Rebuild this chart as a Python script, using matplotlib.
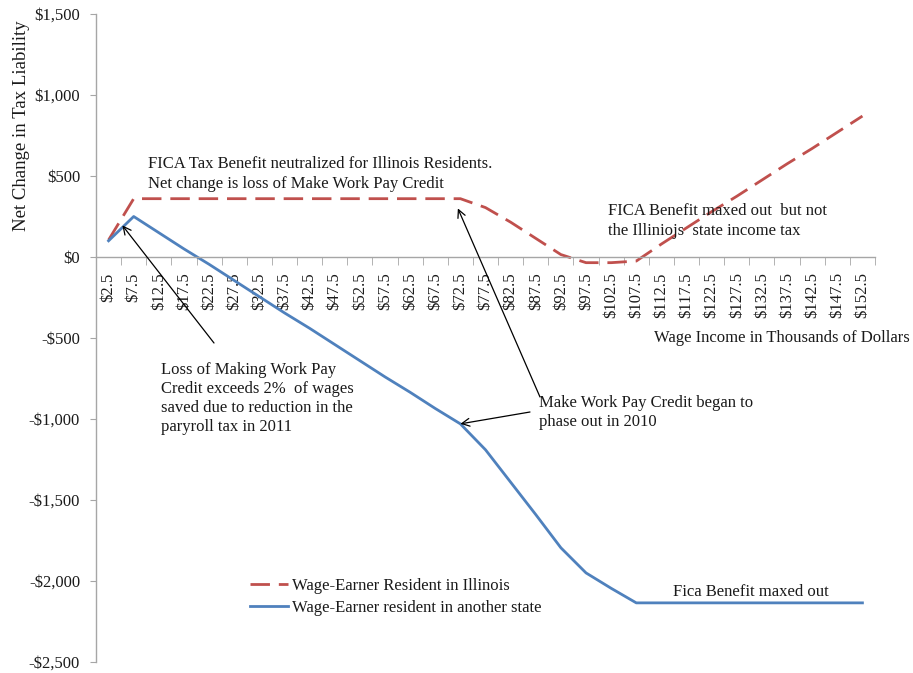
import matplotlib
matplotlib.use("Agg")
import matplotlib.pyplot as plt
from matplotlib.ticker import FuncFormatter, FixedLocator

plt.rcParams['font.family'] = ['Liberation Serif', 'DejaVu Serif']

categories = ["$2.5", "$7.5", "$12.5", "$17.5", "$22.5", "$27.5", "$32.5", "$37.5",
              "$42.5", "$47.5", "$52.5", "$57.5", "$62.5", "$67.5", "$72.5", "$77.5",
              "$82.5", "$87.5", "$92.5", "$97.5", "$102.5", "$107.5", "$112.5", "$117.5",
              "$122.5", "$127.5", "$132.5", "$137.5", "$142.5", "$147.5", "$152.5"]

illinois = [105, 360, 360, 360, 360, 360, 360, 360, 360, 360, 360, 360, 360, 360, 360,
            305, 215, 115, 15, -35, -35, -25, 80, 180, 280, 375, 475, 575, 670, 770, 870]

other_state = [100, 250, 150, 50, -45, -145, -245, -345, -440, -540, -640, -740, -835,
               -935, -1030, -1190, -1390, -1590, -1795, -1950, -2045, -2135, -2135, -2135,
               -2135, -2135, -2135, -2135, -2135, -2135, -2135]

y_ticks = [-2500, -2000, -1500, -1000, -500, 0, 500, 1000, 1500]

W, H = 913, 673
fig = plt.figure(figsize=(W / 100, H / 100), dpi=100)
ax = fig.add_axes([96 / W, 1 - 662 / H, (875 - 96) / W, (662 - 14) / H])

def P(px, py):
    return (px / W, 1 - py / H)

text_color = '#1a1a1a'
axis_color = '#a6a6a6'
FS = 12

x = list(range(len(categories)))
ax.plot(x, illinois, color='#C0504D', lw=2.0, dashes=(7, 3.2),
        label='Wage-Earner Resident in Illinois', solid_capstyle='butt')
ax.plot(x, other_state, color='#4F81BD', lw=2.0,
        label='Wage-Earner resident in another state')

ax.set_xlim(-0.5, len(categories) - 0.5)
ax.set_ylim(-2500, 1500)

for s in ['top', 'right']:
    ax.spines[s].set_visible(False)
ax.spines['bottom'].set_position(('data', 0))
ax.spines['bottom'].set_color(axis_color)
ax.spines['left'].set_color(axis_color)
ax.spines['bottom'].set_linewidth(1.0)
ax.spines['left'].set_linewidth(1.0)

ax.set_yticks(y_ticks)
ax.yaxis.set_major_formatter(FuncFormatter(
    lambda v, p: ('-' if v < 0 else '') + '${:,.0f}'.format(abs(v))))
ax.tick_params(axis='y', length=4.5, color=axis_color, pad=7,
               labelsize=FS, labelcolor=text_color)

ax.set_xticks(x)
ax.set_xticklabels(categories, rotation=90, va='top', ha='center')
ax.xaxis.set_minor_locator(FixedLocator([i + 0.5 for i in range(-1, len(categories))]))
ax.tick_params(axis='x', which='major', length=0, pad=11,
               labelsize=FS, labelcolor=text_color)
ax.tick_params(axis='x', which='minor', length=6, color=axis_color, direction='out')

fig.text(*P(22, 126), 'Net Change in Tax Liability', rotation=90, ha='center',
         va='center', fontsize=13.5, color=text_color)

fig.text(*P(654, 330), 'Wage Income in Thousands of Dollars', ha='left', va='top',
         fontsize=FS, color=text_color)

fig.text(*P(148, 156), 'FICA Tax Benefit neutralized for Illinois Residents.\n'
         'Net change is loss of Make Work Pay Credit', ha='left', va='top',
         fontsize=FS, color=text_color, linespacing=1.3)

fig.text(*P(608, 203), 'FICA Benefit maxed out  but not\nthe Illiniojs  state income tax',
         ha='left', va='top', fontsize=FS, color=text_color, linespacing=1.3)

fig.text(*P(161, 362), 'Loss of Making Work Pay\nCredit exceeds 2%  of wages\n'
         'saved due to reduction in the\nparyroll tax in 2011',
         ha='left', va='top', fontsize=FS, color=text_color, linespacing=1.25)

fig.text(*P(539, 395), 'Make Work Pay Credit began to\nphase out in 2010',
         ha='left', va='top', fontsize=FS, color=text_color, linespacing=1.25)

fig.text(*P(673, 584), 'Fica Benefit maxed out', ha='left', va='top',
         fontsize=FS, color=text_color)

arrow = dict(arrowstyle='->', color='black', lw=0.9, shrinkA=0, shrinkB=0,
             mutation_scale=14)
ax.annotate('', xy=(0.55, 195), xycoords='data', xytext=P(214, 343),
            textcoords='figure fraction', arrowprops=arrow)
ax.annotate('', xy=(13.9, illinois[14] - 60), xycoords='data', xytext=P(540, 397),
            textcoords='figure fraction', arrowprops=arrow)
ax.annotate('', xy=(14, other_state[14]), xycoords='data', xytext=P(530, 412),
            textcoords='figure fraction', arrowprops=arrow)

leg = ax.legend(loc='upper left', bbox_to_anchor=P(250, 578), bbox_transform=fig.transFigure,
                frameon=False, fontsize=FS, handlelength=2.3, handletextpad=0.2,
                labelspacing=0.37, borderpad=0, borderaxespad=0)
for t in leg.get_texts():
    t.set_color(text_color)

fig.savefig('out.png', dpi=100)
